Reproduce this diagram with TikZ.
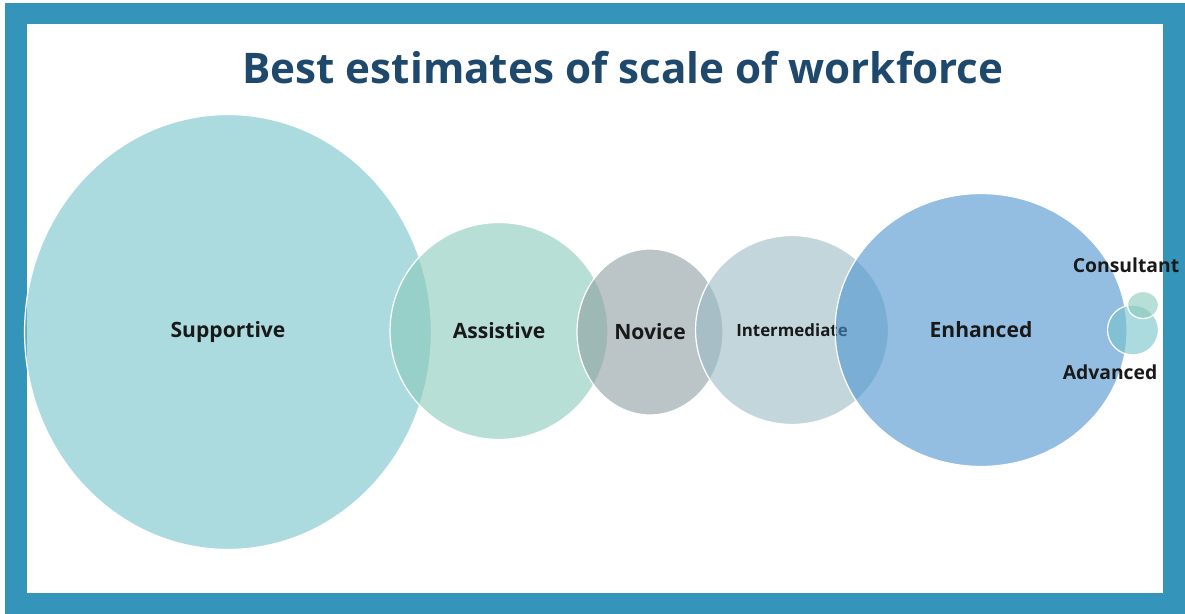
\documentclass[tikz,border=0pt]{standalone}
\usepackage{fontspec}
\setmainfont{Open Sans}
\usetikzlibrary{shapes.geometric,positioning}
\definecolor{frameblue}{RGB}{53,148,186}
\definecolor{titleblue}{RGB}{31,73,108}
\definecolor{supcol}{RGB}{117,195,202}
\definecolor{asscol}{RGB}{138,202,187}
\definecolor{novcol}{RGB}{142,158,162}
\definecolor{intcol}{RGB}{155,187,198}
\definecolor{enhcol}{RGB}{75,148,208}
\definecolor{labeltext}{RGB}{25,25,25}

\begin{document}
\begin{tikzpicture}[x=0.02cm,y=-0.02cm,
  bubble/.style={ellipse,draw=white,line width=0.7pt,fill opacity=0.6,text opacity=1,
    inner sep=0pt,text=labeltext,font=\bfseries\fontsize{12}{12}\selectfont},
  tag/.style={text=labeltext,font=\bfseries\fontsize{11}{11}\selectfont}]
% frame
\useasboundingbox (0,0) rectangle (1185,614);
\fill[frameblue] (5,3) rectangle (1185,614);
\fill[white] (27,24) rectangle (1163,593);
\node[text=titleblue,font=\bfseries\fontsize{24}{24}\selectfont] (title) at (623,68) {Best estimates of scale of workforce};
% bubbles
\node[bubble,fill=supcol,minimum width=8.14cm,minimum height=8.7cm] (sup) at (228,332) {Supportive};
\node[bubble,fill=asscol,minimum width=4.36cm,minimum height=4.34cm] (ass) at (499,331) {Assistive};
\node[bubble,fill=novcol,minimum width=2.92cm,minimum height=3.32cm] (nov) at (650,332) {Novice};
\node[bubble,fill=intcol,minimum width=3.86cm,minimum height=3.78cm,font=\bfseries\fontsize{9.6}{10}\selectfont] (int) at (792,330) {Intermediate};
\node[bubble,fill=enhcol,minimum width=5.84cm,minimum height=5.46cm] (enh) at (981,330) {Enhanced};
\node[bubble,fill=supcol,minimum width=1.02cm,minimum height=1.0cm] (adv) at (1133,330) {};
\node[bubble,fill=asscol,minimum width=0.62cm,minimum height=0.54cm] (con) at (1143,305) {};
% small labels
\node[tag] (conlabel) at (1126,265) {Consultant};
\node[tag] (advlabel) at (1110,372) {Advanced};
\end{tikzpicture}
\end{document}
